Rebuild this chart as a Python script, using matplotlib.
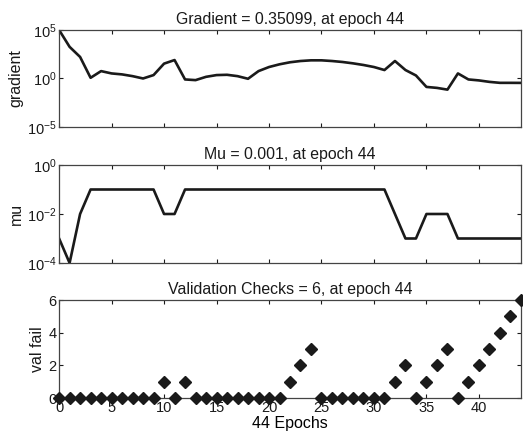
import numpy as np
import matplotlib.pyplot as plt
from matplotlib.ticker import FixedLocator

plt.rcParams['font.family'] = ['Liberation Sans', 'DejaVu Sans']
plt.rcParams['font.size'] = 10

epochs = np.arange(0, 45)

# log10 of the gradient
grad_log = [5.0, 3.26, 2.22, 0.07, 0.76, 0.52, 0.42, 0.24, 0.0, 0.35,
            1.53, 1.9, -0.1, -0.17, 0.17, 0.35, 0.38, 0.24, -0.03, 0.76,
            1.18, 1.46, 1.67, 1.8, 1.87, 1.87, 1.8, 1.7, 1.56, 1.39,
            1.18, 0.87, 1.8, 0.87, 0.31, -0.87, -0.97, -1.15, 0.52, -0.1,
            -0.2, -0.35, -0.45, -0.45, -0.455]
gradient = 10.0 ** np.array(grad_log)

mu = [1e-3, 1e-4, 1e-2] + [1e-1] * 7 + [1e-2, 1e-2] + [1e-1] * 20 + \
     [1e-2, 1e-3, 1e-3, 1e-2, 1e-2, 1e-2] + [1e-3] * 7

val_fail = [0] * 10 + [1, 0, 1] + [0] * 9 + [1, 2, 3] + [0] * 7 + \
           [1, 2, 0, 1, 2, 3, 0, 1, 2, 3, 4, 5, 6]

xticks = [0, 5, 10, 15, 20, 25, 30, 35, 40]
ink = '#1a1a1a'

fig = plt.figure(figsize=(5.23, 4.42), dpi=100)
ax1 = fig.add_axes([0.113, 0.7127, 0.883, 0.2195])
ax2 = fig.add_axes([0.113, 0.405, 0.883, 0.2217])
ax3 = fig.add_axes([0.113, 0.0995, 0.883, 0.2217])

ax1.semilogy(epochs, gradient, color=ink, lw=1.9)
ax1.set_ylim(1e-5, 1e5)
ax1.yaxis.set_major_locator(FixedLocator([1e-5, 1e0, 1e5]))
ax1.yaxis.set_minor_locator(FixedLocator([]))
ax1.set_ylabel('gradient')
ax1.set_title('Gradient = 0.35099, at epoch 44')

ax2.semilogy(epochs, mu, color=ink, lw=1.9)
ax2.set_ylim(1e-4, 1e0)
ax2.yaxis.set_major_locator(FixedLocator([1e-4, 1e-2, 1e0]))
ax2.yaxis.set_minor_locator(FixedLocator([]))
ax2.set_ylabel('mu')
ax2.set_title('Mu = 0.001, at epoch 44')

ax3.plot(epochs, val_fail, linestyle='none', marker='D', color=ink,
         markersize=5.8, clip_on=False, zorder=3)
ax3.set_ylim(0, 6)
ax3.set_yticks([0, 2, 4, 6])
ax3.set_ylabel('val fail')
ax3.set_xlabel('44 Epochs', fontsize=11.5, labelpad=1)
ax3.set_title('Validation Checks = 6, at epoch 44')

for ax in (ax1, ax2, ax3):
    ax.set_xlim(0, 44)
    ax.set_xticks(xticks)
    ax.tick_params(direction='in', top=True, right=True, length=3,
                   colors=ink, labelsize=10.5, pad=2)
    for s in ax.spines.values():
        s.set_color('#444444')
        s.set_linewidth(0.9)
    ax.yaxis.label.set_color(ink)
    ax.yaxis.label.set_fontsize(11.5)
    ax.yaxis.labelpad = 2
    ax.set_title(ax.get_title(), fontsize=11.4, color=ink, pad=4)

ax1.set_xticklabels([])
ax2.set_xticklabels([])

fig.savefig('out.png', dpi=100)
